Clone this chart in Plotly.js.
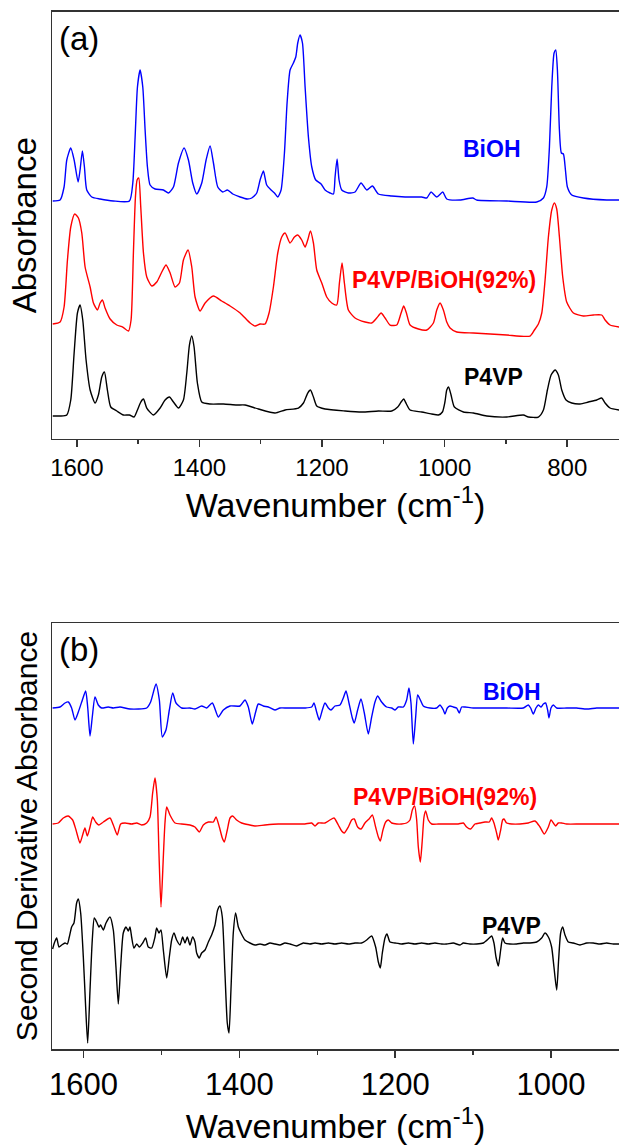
<!DOCTYPE html>
<html>
<head>
<meta charset="utf-8">
<script src="https://cdn.plot.ly/plotly-3.0.1.min.js"></script>
<style>
html,body{margin:0;padding:0;background:#fff;overflow:hidden;}
#chart{width:619px;height:1146px;}
</style>
</head>
<body>
<div id="chart"></div>
<script>
// ---------- Panel (a): FTIR absorbance (offset), wavenumber in cm-1 ----------
var wnBiOH_a = [1639.3,1627.3,1620.8,1616.4,1609.9,1604.4,1597.9,1594.7,1590.9,1587.6,1583.8,1575.6,1562.0,1540.3,1514.2,1508.7,1504.9,1501.1,1496.8,1492.4,1488.6,1484.8,1480.5,1472.3,1458.7,1450.6,1442.4,1434.2,1425.0,1417.9,1410.9,1404.3,1396.2,1389.1,1382.6,1377.1,1370.1,1361.9,1354.3,1345.6,1333.6,1322.0,1314.6,1306.5,1301.0,1295.6,1290.2,1283.1,1277.6,1272.2,1266.8,1261.3,1257.0,1252.1,1246.7,1242.8,1239.6,1235.8,1231.9,1227.6,1222.2,1216.7,1210.2,1201.5,1195.0,1186.8,1181.4,1178.7,1175.4,1172.2,1167.8,1156.9,1146.1,1136.3,1127.0,1117.8,1108.0,1086.2,1064.5,1037.3,1029.1,1022.1,1012.8,1003.0,996.5,974.8,954.1,947.6,898.6,849.7,838.8,833.4,829.0,825.2,821.4,818.7,816.0,812.7,809.5,806.2,802.9,799.7,792.6,773.6,735.5,715.4];
var absBiOH_a = [2.39,2.40,2.53,2.80,2.92,2.80,2.58,2.70,2.89,2.73,2.50,2.43,2.41,2.39,2.39,2.57,3.03,3.53,3.70,3.53,3.10,2.73,2.55,2.51,2.50,2.47,2.53,2.77,2.92,2.80,2.57,2.46,2.57,2.80,2.94,2.77,2.53,2.48,2.50,2.46,2.43,2.41,2.42,2.47,2.60,2.69,2.55,2.50,2.47,2.43,2.50,2.87,3.37,3.70,3.77,3.83,3.97,4.05,3.97,3.53,3.03,2.73,2.60,2.56,2.50,2.47,2.46,2.63,2.81,2.60,2.50,2.47,2.48,2.57,2.50,2.54,2.46,2.44,2.43,2.43,2.42,2.48,2.43,2.48,2.41,2.40,2.42,2.40,2.39,2.38,2.42,2.53,2.93,3.53,3.87,3.90,3.70,3.10,2.87,2.86,2.70,2.53,2.45,2.42,2.40,2.40];

var wnBlend_a = [1639.3,1627.3,1620.8,1615.3,1609.9,1603.4,1597.4,1591.9,1586.5,1578.3,1572.9,1566.4,1562.0,1558.2,1553.9,1545.7,1534.8,1525.1,1515.8,1511.5,1507.7,1504.4,1501.7,1499.0,1495.7,1491.3,1485.9,1477.7,1469.6,1461.4,1454.4,1447.8,1439.7,1432.6,1426.1,1418.5,1412.5,1407.1,1398.9,1390.7,1377.2,1363.6,1350.0,1333.6,1317.3,1309.2,1301.0,1292.9,1286.4,1279.3,1272.2,1265.7,1260.2,1252.1,1245.0,1239.6,1233.1,1227.6,1223.3,1218.9,1214.0,1208.6,1200.4,1192.3,1184.1,1176.0,1171.6,1167.3,1163.5,1157.0,1146.1,1129.8,1118.9,1110.7,1103.6,1097.1,1089.0,1078.1,1071.0,1066.7,1062.3,1056.3,1042.7,1029.1,1018.3,1012.8,1007.4,1002.0,996.5,991.1,980.2,953.0,925.8,898.6,860.6,853.5,847.0,841.5,836.1,830.7,825.2,820.9,817.1,812.7,807.3,800.8,789.9,773.6,757.3,743.7,738.2,730.1,715.4];
var absBlend_a = [1.16,1.18,1.33,1.80,2.13,2.26,2.22,2.07,1.73,1.53,1.37,1.30,1.37,1.40,1.32,1.21,1.15,1.13,1.09,1.20,1.87,2.43,2.60,2.62,2.33,1.87,1.63,1.54,1.58,1.68,1.75,1.67,1.53,1.57,1.80,1.90,1.73,1.43,1.29,1.37,1.44,1.39,1.34,1.27,1.17,1.14,1.16,1.16,1.27,1.53,1.87,2.03,2.07,1.97,2.03,2.05,2.00,1.93,2.00,2.09,1.97,1.70,1.57,1.43,1.37,1.35,1.57,1.77,1.57,1.30,1.22,1.18,1.17,1.22,1.27,1.22,1.15,1.15,1.27,1.34,1.27,1.15,1.11,1.10,1.17,1.30,1.37,1.30,1.18,1.12,1.08,1.07,1.06,1.05,1.04,1.10,1.16,1.27,1.60,2.03,2.30,2.37,2.31,2.03,1.63,1.38,1.27,1.24,1.25,1.25,1.20,1.15,1.13];

var wnP4VP_a = [1639.3,1627.3,1616.4,1609.9,1604.4,1599.0,1594.7,1590.3,1584.9,1578.3,1570.2,1564.8,1559.3,1555.0,1550.1,1544.6,1534.8,1524.0,1514.2,1506.6,1501.1,1495.7,1491.3,1485.9,1475.0,1464.1,1456.0,1448.9,1442.4,1434.2,1426.1,1420.6,1416.3,1412.5,1408.7,1403.3,1396.2,1382.6,1360.8,1339.1,1325.5,1303.7,1276.6,1260.2,1238.5,1230.3,1223.3,1218.9,1214.0,1208.6,1195.0,1162.4,1135.2,1108.0,1086.2,1076.5,1071.0,1066.7,1062.3,1056.3,1037.3,1021.0,1010.1,1003.6,999.5,996.5,993.5,989.5,984.0,969.3,953.0,931.3,898.6,871.5,863.3,847.0,838.8,832.3,826.3,819.8,814.4,808.9,801.9,792.6,779.0,765.4,751.8,743.7,738.2,730.1,715.4];
var absP4VP_a = [0.24,0.24,0.25,0.40,0.87,1.27,1.35,1.20,0.80,0.50,0.37,0.45,0.63,0.68,0.50,0.33,0.29,0.25,0.25,0.23,0.30,0.38,0.41,0.32,0.25,0.32,0.40,0.43,0.38,0.32,0.40,0.67,0.95,1.04,0.93,0.57,0.38,0.36,0.36,0.35,0.35,0.31,0.27,0.30,0.32,0.37,0.47,0.50,0.43,0.34,0.31,0.29,0.28,0.29,0.29,0.33,0.38,0.41,0.36,0.30,0.28,0.26,0.25,0.28,0.38,0.50,0.53,0.45,0.33,0.28,0.27,0.24,0.23,0.25,0.23,0.23,0.30,0.50,0.65,0.70,0.65,0.50,0.40,0.37,0.36,0.38,0.40,0.42,0.37,0.32,0.30];

// ---------- Panel (b): second derivative (offset) ----------
var wnBiOH_b = [1639.7,1630.3,1623.8,1619.6,1615.3,1611.0,1606.7,1602.4,1597.3,1594.7,1591.7,1588.8,1585.3,1581.1,1576.8,1568.2,1561.8,1553.2,1540.4,1519.0,1513.9,1507.0,1502.7,1498.9,1494.2,1489.9,1485.6,1481.3,1474.1,1463.4,1457.0,1448.4,1442.0,1434.7,1427.0,1420.6,1412.0,1399.2,1392.8,1388.5,1383.4,1379.1,1375.7,1369.3,1362.8,1354.3,1347.9,1339.3,1328.6,1315.8,1307.2,1304.2,1300.8,1297.4,1293.5,1290.1,1285.8,1282.4,1277.3,1270.8,1266.6,1263.1,1259.3,1255.0,1252.5,1248.2,1243.9,1239.6,1234.5,1230.2,1225.9,1222.5,1217.4,1211.0,1204.5,1200.2,1196.0,1189.5,1185.3,1182.3,1179.7,1176.7,1173.7,1171.1,1167.7,1163.9,1155.3,1146.8,1142.5,1138.2,1136.1,1133.1,1129.7,1125.4,1121.1,1117.7,1114.7,1110.4,1099.7,1078.3,1056.9,1035.5,1029.1,1026.1,1022.7,1019.3,1016.3,1012.8,1009.8,1006.9,1004.3,1002.6,1000.0,997.0,992.7,979.9,967.1,954.2,941.4,928.6,912.7];
var d2BiOH_b = [3.42,3.43,3.47,3.48,3.42,3.30,3.38,3.48,3.59,3.43,3.14,3.33,3.53,3.45,3.42,3.43,3.42,3.43,3.41,3.42,3.48,3.66,3.50,3.13,3.20,3.40,3.57,3.47,3.42,3.42,3.41,3.44,3.42,3.47,3.33,3.40,3.44,3.44,3.50,3.43,3.26,3.38,3.46,3.44,3.43,3.40,3.42,3.42,3.42,3.42,3.43,3.47,3.38,3.30,3.40,3.47,3.42,3.40,3.44,3.45,3.52,3.59,3.47,3.32,3.27,3.40,3.51,3.37,3.16,3.33,3.48,3.54,3.48,3.43,3.42,3.40,3.43,3.43,3.50,3.62,3.47,3.06,3.33,3.55,3.50,3.44,3.42,3.42,3.45,3.40,3.36,3.42,3.44,3.43,3.42,3.37,3.43,3.43,3.42,3.42,3.42,3.42,3.45,3.42,3.36,3.42,3.45,3.43,3.46,3.47,3.40,3.32,3.42,3.45,3.42,3.42,3.42,3.41,3.42,3.42,3.42];

var wnBlend_b = [1639.7,1632.4,1626.0,1619.6,1614.0,1609.7,1604.6,1601.2,1598.2,1595.2,1591.7,1588.3,1584.5,1580.2,1574.6,1566.1,1561.8,1556.7,1552.4,1546.8,1538.3,1531.8,1525.4,1519.0,1514.7,1511.3,1508.3,1505.3,1503.2,1500.6,1497.6,1495.5,1493.3,1489.1,1482.6,1474.1,1463.4,1457.0,1451.4,1446.3,1439.8,1433.4,1430.0,1425.7,1421.9,1419.3,1415.5,1412.0,1408.6,1403.5,1397.1,1386.4,1380.0,1367.1,1350.0,1328.6,1315.8,1307.2,1302.9,1298.7,1290.1,1283.7,1278.5,1273.0,1268.7,1265.3,1260.1,1255.9,1252.5,1248.2,1243.9,1238.8,1233.6,1229.3,1225.1,1221.6,1219.1,1215.7,1212.2,1208.8,1204.5,1198.1,1191.7,1185.3,1181.0,1178.0,1175.0,1172.4,1170.3,1167.7,1165.2,1163.0,1160.9,1157.5,1153.2,1144.6,1129.7,1119.0,1112.5,1108.3,1103.1,1097.6,1091.2,1084.7,1079.2,1076.2,1073.2,1069.8,1067.6,1064.6,1062.1,1060.3,1056.9,1050.5,1039.8,1029.1,1020.5,1014.1,1008.6,1003.4,1000.0,997.0,994.0,990.6,986.3,979.9,962.8,937.1,912.7];
var d2Blend_b = [2.26,2.27,2.32,2.34,2.30,2.20,2.07,2.15,2.22,2.14,2.23,2.33,2.28,2.25,2.28,2.32,2.25,2.15,2.26,2.27,2.26,2.27,2.25,2.27,2.33,2.57,2.72,2.50,1.97,1.43,1.93,2.27,2.43,2.35,2.27,2.26,2.25,2.23,2.18,2.25,2.28,2.28,2.33,2.23,2.12,2.08,2.20,2.32,2.34,2.30,2.27,2.25,2.24,2.25,2.26,2.26,2.26,2.27,2.24,2.27,2.27,2.30,2.32,2.25,2.19,2.17,2.23,2.30,2.31,2.23,2.21,2.27,2.31,2.35,2.23,2.13,2.09,2.20,2.28,2.30,2.27,2.26,2.26,2.27,2.30,2.40,2.44,2.30,2.03,1.88,2.10,2.33,2.39,2.30,2.26,2.26,2.26,2.26,2.27,2.23,2.21,2.26,2.27,2.28,2.28,2.32,2.27,2.17,2.10,2.20,2.30,2.31,2.27,2.26,2.26,2.27,2.29,2.23,2.16,2.23,2.30,2.27,2.24,2.27,2.27,2.26,2.26,2.26,2.26];

var wnP4VP_b = [1639.7,1637.5,1634.5,1631.5,1628.1,1623.8,1620.8,1618.3,1615.3,1612.3,1608.9,1606.7,1603.7,1600.3,1597.3,1594.7,1591.7,1588.8,1586.2,1583.2,1580.2,1578.1,1574.6,1571.2,1566.1,1561.8,1558.4,1555.4,1552.4,1549.0,1545.5,1542.5,1540.4,1538.3,1535.3,1531.8,1528.4,1524.1,1520.3,1516.9,1512.6,1508.3,1506.2,1503.2,1500.6,1497.6,1493.3,1489.9,1486.9,1483.9,1480.5,1476.2,1472.8,1469.8,1466.8,1463.4,1460.0,1457.0,1454.8,1451.4,1448.4,1444.1,1439.8,1435.6,1431.3,1427.9,1424.9,1421.9,1418.5,1415.5,1413.3,1410.8,1407.8,1404.8,1401.3,1397.9,1392.8,1386.4,1380.0,1373.5,1367.1,1360.7,1354.3,1347.9,1341.5,1335.0,1326.5,1317.9,1309.4,1302.9,1294.4,1285.8,1277.3,1268.7,1260.1,1251.6,1243.0,1236.6,1230.2,1225.1,1221.6,1219.1,1216.5,1213.1,1210.5,1206.7,1200.2,1191.7,1183.1,1174.6,1166.0,1157.5,1148.9,1140.4,1133.9,1125.4,1116.8,1112.5,1104.0,1095.4,1086.9,1079.2,1076.2,1073.2,1070.6,1067.6,1064.6,1062.1,1059.1,1052.6,1044.1,1035.5,1027.0,1018.4,1012.0,1007.7,1003.4,999.2,996.2,992.7,990.2,987.6,985.0,982.0,977.8,971.3,962.8,954.2,945.7,937.1,928.6,920.0,912.7];
var d2P4VP_b = [1.01,1.07,1.12,1.03,1.05,1.07,1.06,1.13,1.23,1.27,1.47,1.51,1.37,0.93,0.43,0.07,0.60,1.10,1.32,1.28,1.23,1.25,1.20,1.27,1.33,1.20,0.83,0.46,0.83,1.17,1.23,1.19,1.23,1.13,1.02,1.06,1.03,1.07,1.12,1.03,1.02,1.13,1.22,1.17,1.20,1.00,0.72,0.93,1.10,1.17,1.10,1.05,1.13,1.07,1.13,1.05,1.13,1.08,0.97,0.92,0.97,1.00,1.08,1.15,1.25,1.40,1.44,1.33,0.77,0.27,0.17,0.60,1.17,1.37,1.23,1.17,1.10,1.07,1.05,1.06,1.05,1.07,1.06,1.05,1.07,1.06,1.04,1.07,1.06,1.07,1.06,1.07,1.06,1.07,1.06,1.07,1.07,1.10,1.14,1.03,0.88,0.82,0.97,1.12,1.16,1.08,1.07,1.06,1.07,1.06,1.07,1.06,1.07,1.06,1.06,1.07,1.05,1.07,1.06,1.06,1.07,1.12,1.14,1.07,0.93,0.84,1.00,1.12,1.07,1.06,1.06,1.07,1.07,1.08,1.12,1.17,1.13,1.03,0.83,0.60,0.90,1.17,1.23,1.15,1.08,1.07,1.05,1.07,1.07,1.06,1.07,1.06,1.06];

// ---------- Labels ----------
var seriesNames = ['BiOH', 'P4VP/BiOH(92%)', 'P4VP'];
var seriesColors = ['#0000FF', '#FF0000', '#000000'];
var panelLabels = ['(a)', '(b)'];
var labelPosA = {wn: [922.7, 1001, 921], y: [2.91, 1.60, 0.63]};
var labelPosB = {wn: [1050.5, 1136, 1050.4], y: [3.58, 2.53, 1.24]};

var FONT = 'Arial, "Liberation Sans", sans-serif';

function trace(x, y, i, xa, ya) {
  return {x: x, y: y, type: 'scatter', mode: 'lines', name: seriesNames[i],
    xaxis: xa, yaxis: ya,
    line: {color: seriesColors[i], width: 1.4, shape: 'spline', smoothing: 0.6},
    hoverinfo: 'skip'};
}

var data = [
  trace(wnBiOH_a, absBiOH_a, 0, 'x', 'y'),
  trace(wnBlend_a, absBlend_a, 1, 'x', 'y'),
  trace(wnP4VP_a, absP4VP_a, 2, 'x', 'y'),
  trace(wnBiOH_b, d2BiOH_b, 0, 'x2', 'y2'),
  trace(wnBlend_b, d2Blend_b, 1, 'x2', 'y2'),
  trace(wnP4VP_b, d2P4VP_b, 2, 'x2', 'y2')
];

var AX = '#333333';
function xAxis(range, domainY, tickSize, anchor) {
  return {
    domain: [0, 1], range: range, anchor: anchor,
    tick0: 0, dtick: 200, ticks: 'outside', ticklen: 7, tickwidth: 1.5, tickcolor: AX,
    minor: {dtick: 100, ticks: 'outside', ticklen: 4, tickwidth: 1.5, tickcolor: AX},
    showline: true, linecolor: AX, linewidth: 1.5, mirror: true,
    showgrid: false, zeroline: false,
    tickfont: {family: FONT, size: tickSize, color: '#000'},
    title: {text: 'Wavenumber (cm<sup>-1</sup>)', font: {family: FONT, size: 34, color: '#000'}, standoff: 6}
  };
}
function yAxis(domain, range, title, size, anchor) {
  return {
    domain: domain, range: range, anchor: anchor,
    showline: true, linecolor: AX, linewidth: 1.5, mirror: false,
    ticks: '', showticklabels: false, showgrid: false, zeroline: false,
    title: {text: title, font: {family: FONT, size: size, color: '#000'}, standoff: 4}
  };
}

var annotations = [];
[labelPosA, labelPosB].forEach(function (pos, p) {
  for (var i = 0; i < 3; i++) {
    annotations.push({
      x: pos.wn[i], y: pos.y[i], xref: p ? 'x2' : 'x', yref: p ? 'y2' : 'y',
      text: '<b>' + seriesNames[i] + '</b>', showarrow: false,
      xanchor: 'center', yanchor: 'middle',
      font: {family: FONT, size: 23, color: seriesColors[i]}
    });
  }
  annotations.push({
    x: 0.0476, y: 0.937, xref: p ? 'x2 domain' : 'x domain', yref: p ? 'y2 domain' : 'y domain',
    text: panelLabels[p], showarrow: false, xanchor: 'center', yanchor: 'middle',
    font: {family: FONT, size: 33, color: '#000'}
  });
});

var layout = {
  width: 619, height: 1146,
  margin: {l: 52, r: 0, t: 0, b: 0},
  paper_bgcolor: '#ffffff', plot_bgcolor: '#ffffff',
  showlegend: false,
  font: {family: FONT, color: '#000'},
  xaxis: xAxis([1640.5, 715.5], null, 24, 'y'),
  yaxis: yAxis([0.61736, 0.98953], [0.015, 4.28], 'Absorbance', 33, 'x'),
  xaxis2: xAxis([1640.5, 912.7], null, 31, 'y2'),
  yaxis2: yAxis([0.08464, 0.45637], [0.01, 4.27], 'Second Derivative Absorbance', 30, 'x2'),
  annotations: annotations
};

Plotly.newPlot('chart', data, layout, {displayModeBar: false, staticPlot: true});
</script>
</body>
</html>
